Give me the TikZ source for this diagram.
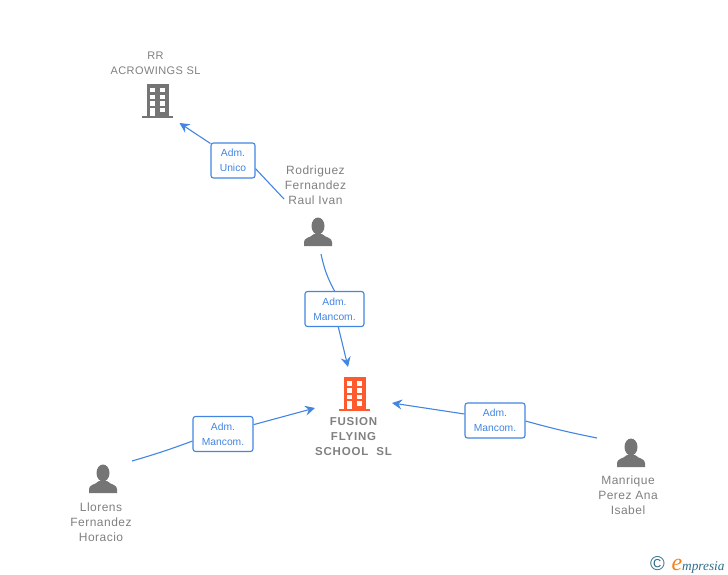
\documentclass[tikz,border=0pt]{standalone}
\usepackage{fontspec}
\setmainfont{Liberation Sans}
\newfontfamily\namefont[LetterSpace=4]{Liberation Sans}
\newfontfamily\boldnamefont[LetterSpace=7]{Liberation Sans Bold}
\newfontfamily\logofont{Liberation Serif Italic}
\usetikzlibrary{arrows.meta, positioning}
\definecolor{IconGrey}{RGB}{117, 117, 117}
\definecolor{IconOrange}{RGB}{255, 90, 45}
\definecolor{NameGrey}{RGB}{128, 128, 128}
\definecolor{LinkBlue}{RGB}{66, 133, 226}
\definecolor{LogoTeal}{RGB}{45, 110, 140}
\definecolor{LogoOrange}{RGB}{240, 130, 30}

\tikzset{
    pics/buildingicon/.style={code={
        \fill[#1] (5,0) rectangle (27,32);
        \fill[#1] (0,32) rectangle (31,34);
        \foreach \rowy in {4,11,17.5} {
            \fill[white] (8.3,\rowy) rectangle (13.3,\rowy+4.5);
            \fill[white] (18.3,\rowy) rectangle (23.3,\rowy+4.5);
        }
        \fill[white] (8.3,24) rectangle (13.3,32);
        \fill[white] (18.3,24) rectangle (23.3,28.5);
    }},
    pics/personicon/.style={code={
        \fill[#1] (14,8) ellipse (6.5 and 8.5);
        \fill[#1] (0,28) -- (0,24) .. controls (0,19.5) and (6,20) .. (10,16) -- (18,16)
            .. controls (22,20) and (28,19.5) .. (28,24) -- (28,28) -- cycle;
    }}
}

\begin{document}
\begin{tikzpicture}[
        x=1pt, y=-1pt,
        personname/.style={align=center, inner sep=0pt, text=NameGrey, font=\namefont\fontsize{12}{15}\selectfont},
        company/.style={personname, font=\namefont\fontsize{11}{15}\selectfont},
        mainname/.style={personname, font=\boldnamefont\fontsize{11.5}{15}\selectfont},
        role/.style={rectangle, draw=LinkBlue, fill=white, line width=1.1pt, rounded corners=2.5pt, minimum height=35pt, inner sep=0pt, align=center, text=LinkBlue, font=\fontsize{10.3}{15}\selectfont},
        link/.style={LinkBlue, line width=1.1pt},
        arrow/.style={-{Stealth[length=10pt, width=10pt, inset=3.5pt]}, LinkBlue, line width=1.1pt}
    ]
        \useasboundingbox (0,0) rectangle (728,575);

        % Icons
        \pic at (142,84) {buildingicon=IconGrey};
        \pic at (339,377) {buildingicon=IconOrange};
        \pic at (304,218) {personicon=IconGrey};
        \pic at (89,465) {personicon=IconGrey};
        \pic at (617,439) {personicon=IconGrey};

        % Nodes
        \node[company] (rrname) at (155.5,63) {RR\\ACROWINGS SL};
        \node[mainname] (fusionname) at (353.5,436.5) {FUSION\\FLYING\\SCHOOL\ \ SL};
        \node[personname] (rodriguez) at (315.5,185) {Rodriguez\\Fernandez\\Raul Ivan};
        \node[personname] (llorens) at (101,522) {Llorens\\Fernandez\\Horacio};
        \node[personname] (manrique) at (628,495) {Manrique\\Perez Ana\\Isabel};

        \node[role, minimum width=44pt] (unico) at (233,160.5) {Adm.\\Unico};
        \node[role, minimum width=59pt] (mancomtop) at (334.5,309) {Adm.\\Mancom.};
        \node[role, minimum width=60pt] (mancomleft) at (223,434) {Adm.\\Mancom.};
        \node[role, minimum width=60pt] (mancomright) at (495,420.5) {Adm.\\Mancom.};

        % Free ends
        \coordinate (rodleft) at (284,199);
        \coordinate (rodbelow) at (321,254);
        \coordinate (llorensend) at (132,461);
        \coordinate (manriqueend) at (597,438);
        \coordinate (rrend) at (179.5,123);
        \coordinate (fusiontop) at (348,367);
        \coordinate (fusionleft) at (315,408);
        \coordinate (fusionright) at (392,403);

        % Arrows
        \draw[link] (rodleft) -- (unico.-20);
        \draw[arrow] (unico.143) -- (rrend);
        \draw[link] (rodbelow) to[bend right=8] (mancomtop.north);
        \draw[arrow] (mancomtop.-78) -- (fusiontop);
        \draw[link] (llorensend) to[bend right=2] (mancomleft.193);
        \draw[arrow] (mancomleft.17) -- (fusionleft);
        \draw[link] (manriqueend) to[bend left=2] (mancomright.-1);
        \draw[arrow] (mancomright.168) -- (fusionright);

        % Logo
        \node[inner sep=0pt, text=LogoTeal, font=\fontsize{20}{20}\selectfont] (logoc) at (657.5,564) {©};
        \node[inner sep=0pt, text=LogoOrange, font=\logofont\fontsize{24}{24}\selectfont, anchor=base] (logoe) at (677,570) {e};
        \node[inner sep=0pt, text=LogoTeal, font=\logofont\fontsize{13.3}{13.3}\selectfont, anchor=base west] (logotext) at (682,570) {mpresia};
\end{tikzpicture}
\end{document}
